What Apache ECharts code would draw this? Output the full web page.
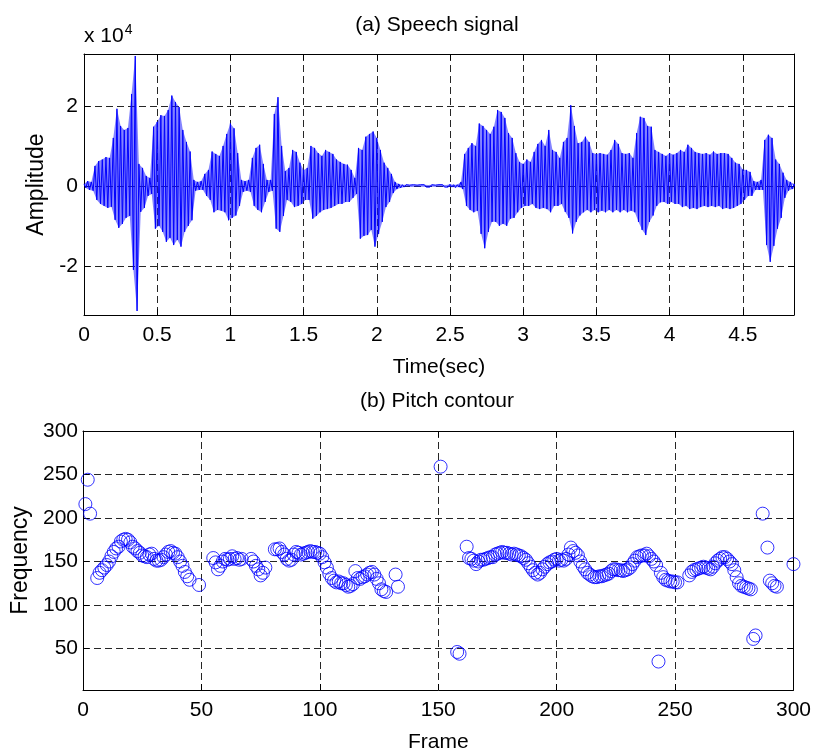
<!DOCTYPE html>
<html><head><meta charset="utf-8">
<script src="https://cdn.jsdelivr.net/npm/echarts@6/dist/echarts.min.js"></script>
<style>html,body{margin:0;padding:0;background:#fff}#c{width:814px;height:754px}</style>
</head><body><div id="c"></div>
<script>
// ---- (a) Speech signal: envelope read every 25 ms (units of 1e4) ----
const timeStep = 0.025;
const upperEnv = [
0.05,0.12,0.10,0.50,0.62,0.66,0.72,0.70,1.20,1.93,
1.50,1.40,1.45,2.30,3.25,0.55,0.45,0.25,0.20,1.48,
1.60,1.77,1.75,1.90,2.26,2.10,1.97,1.40,1.10,0.86,
0.15,0.10,0.12,0.30,0.40,0.86,0.80,0.75,1.00,1.30,
1.56,1.44,0.82,0.15,0.12,0.15,0.70,0.95,1.03,0.55,
0.15,0.15,1.80,2.22,1.00,0.37,0.45,0.90,0.85,0.58,
0.40,0.45,1.00,0.95,0.82,0.75,0.90,0.85,0.80,0.66,
0.60,0.55,0.53,0.40,0.20,0.95,0.90,1.23,1.30,1.36,
1.20,0.90,0.58,0.45,0.30,0.10,0.05,0.03,0.03,0.02,
0.03,0.02,0.03,0.03,0.02,0.03,0.02,0.03,0.03,0.02,
0.04,0.03,0.03,0.10,0.80,0.95,1.07,1.00,1.56,1.50,
1.40,1.30,1.48,1.90,1.85,1.70,1.32,1.20,0.82,0.60,
0.55,0.66,0.60,0.85,1.05,1.15,1.00,1.40,0.90,0.85,
0.70,1.10,1.20,2.02,1.50,1.07,1.10,1.23,1.10,0.82,
0.80,0.82,0.80,0.78,0.90,1.15,1.05,0.82,0.80,0.82,
0.70,1.32,1.73,1.70,1.50,1.48,0.90,0.85,0.80,0.75,
0.82,0.78,0.82,0.90,0.85,1.03,0.95,0.85,0.82,0.80,
0.82,0.78,0.86,0.80,0.82,0.82,0.80,0.70,0.58,0.55,
0.41,0.40,0.35,0.12,0.10,0.15,1.15,1.28,1.20,0.66,
0.55,0.33,0.15,0.10,0.05];
const lowerEnv = [
-0.05,-0.10,-0.12,-0.35,-0.45,-0.50,-0.55,-0.52,-0.85,-1.05,
-0.95,-0.80,-0.75,-2.10,-3.13,-0.65,-0.55,-0.25,-0.20,-1.07,
-1.00,-1.15,-1.40,-1.30,-1.48,-1.35,-1.52,-1.15,-1.00,-0.86,
-0.12,-0.10,-0.10,-0.25,-0.35,-0.66,-0.60,-0.62,-0.66,-0.86,
-0.80,-0.74,-0.50,-0.15,-0.12,-0.15,-0.50,-0.60,-0.66,-0.40,
-0.15,-0.12,-1.07,-1.15,-0.75,-0.35,-0.40,-0.53,-0.50,-0.45,
-0.35,-0.35,-0.82,-0.75,-0.66,-0.60,-0.58,-0.55,-0.50,-0.45,
-0.45,-0.40,-0.40,-0.30,-0.20,-1.32,-1.25,-1.23,-1.10,-1.52,
-1.20,-0.90,-0.53,-0.40,-0.18,-0.08,-0.05,-0.03,-0.02,-0.03,
-0.02,-0.03,-0.02,-0.03,-0.03,-0.02,-0.03,-0.02,-0.03,-0.03,
-0.03,-0.04,-0.03,-0.08,-0.50,-0.60,-0.66,-0.62,-1.20,-1.56,
-1.15,-0.90,-0.90,-1.00,-0.95,-1.00,-0.82,-0.80,-0.66,-0.55,
-0.50,-0.50,-0.45,-0.55,-0.58,-0.55,-0.58,-0.66,-0.50,-0.50,
-0.45,-0.65,-0.80,-1.19,-0.90,-0.74,-0.66,-0.60,-0.66,-0.60,
-0.66,-0.62,-0.66,-0.60,-0.66,-0.60,-0.66,-0.60,-0.66,-0.62,
-0.66,-0.90,-1.10,-1.23,-0.90,-0.74,-0.50,-0.41,-0.40,-0.45,
-0.40,-0.45,-0.45,-0.53,-0.50,-0.58,-0.55,-0.58,-0.53,-0.50,
-0.53,-0.50,-0.53,-0.50,-0.58,-0.55,-0.58,-0.55,-0.50,-0.45,
-0.35,-0.25,-0.25,-0.10,-0.10,-0.10,-1.48,-1.90,-1.50,-1.07,
-0.80,-0.30,-0.12,-0.08,-0.05];
const timeTicks = [0,0.5,1,1.5,2,2.5,3,3.5,4,4.5];
const ampTicks = [-2,0,2];

// ---- (b) Pitch contour ----
const frames = [1,2,3,
6,7,8,9,10,11,12,13,14,15,16,17,18,19,20,21,22,23,24,25,26,27,28,29,30,31,32,33,34,35,36,37,38,39,40,41,42,43,44,45,
49,
55,56,57,58,59,60,61,62,63,64,65,66,67,
71,72,73,74,75,76,77,
81,82,83,84,85,86,87,88,89,90,91,92,93,94,95,96,97,98,99,100,101,102,103,104,105,106,107,108,109,110,111,112,113,114,115,116,117,118,119,120,121,122,123,124,125,126,127,128,
132,133,
151,
158,159,
162,163,164,165,166,167,168,169,170,171,172,173,174,175,176,177,178,179,180,181,182,183,184,185,186,187,188,189,190,191,192,193,194,195,196,197,198,199,200,201,202,203,204,205,206,207,208,209,210,211,212,213,214,215,216,217,218,219,220,221,222,223,224,225,226,227,228,229,230,231,232,233,234,235,236,237,238,239,240,241,242,243,244,245,246,247,248,249,250,251,
256,257,258,259,260,261,262,263,264,265,266,267,268,269,270,271,272,273,274,275,276,277,278,279,280,281,282,283,284,
287,
289,290,291,292,293,
300];
const pitch = [216,244,205,
131,137,140,143,146,150,156,161,165,167,173,175,176,175,172,167,165,162,160,157,156,155,158,159,153,151,151,152,155,158,161,162,160,159,155,150,145,138,133,129,
123,
154,149,141,145,150,153,152,153,156,153,154,152,153,
153,150,145,141,134,137,143,
164,164,165,161,158,153,151,152,158,161,160,158,159,160,161,162,161,161,160,159,155,149,143,136,131,128,126,127,125,125,123,121,122,124,139,131,130,132,133,135,137,138,135,130,125,118,116,115,
135,121,
259,
46,44,
167,154,153,151,147,150,152,152,153,154,155,155,158,159,160,161,160,160,159,158,159,158,157,156,154,152,148,144,140,137,135,137,141,144,147,149,150,152,153,151,152,151,153,158,166,162,160,157,150,145,141,137,135,133,132,132,133,133,134,135,136,139,141,141,140,140,139,140,141,143,147,151,155,156,157,157,159,156,153,150,146,35,137,132,129,128,127,127,126,126,
134,138,140,141,142,143,144,143,142,141,144,148,151,153,155,155,153,150,147,140,132,125,122,121,120,119,118,61,65,
205,
166,128,125,122,121,
147];
const frameTicks = [0,50,100,150,200,250,300];
const freqTicks = [50,100,150,200,250,300];

const FONT = '"Liberation Sans", Arial, sans-serif';
const BLUE = '#0000ff';
const wave = [];
for (let i = 0; i < upperEnv.length; i++) {
  wave.push([i * timeStep, upperEnv[i]]);
  wave.push([i * timeStep + timeStep / 2, lowerEnv[i]]);
}
const upperPts = upperEnv.map((v, i) => [i * timeStep, v]);
const lowerPts = lowerEnv.map((v, i) => [i * timeStep + timeStep / 2, v]);
const pitchData = frames.map((f, i) => [f, pitch[i]]);

const dash = { color: '#262626', type: [7, 4], width: 1 };
const axisLine = { show: true, onZero: false, lineStyle: { color: '#000', width: 1 } };
function xAx(grid, min, max, ticks, pos, name, nameGap) {
  const main = pos === 'bottom';
  return {
    type: 'value', gridIndex: grid, position: pos, min: min, max: max,
    axisLine: axisLine,
    axisTick: { show: true, inside: true, length: 6, customValues: ticks, lineStyle: { color: '#000' } },
    axisLabel: { show: main, customValues: ticks, margin: 10, color: '#000', fontFamily: FONT, fontSize: 21 },
    splitLine: { show: main, lineStyle: dash },
    name: main ? name : '', nameLocation: 'middle', nameGap: nameGap,
    nameTextStyle: { color: '#000', fontFamily: FONT, fontSize: 21 }
  };
}
function yAx(grid, min, max, ticks, pos, name, nameGap, margin) {
  const main = pos === 'left';
  return {
    type: 'value', gridIndex: grid, position: pos, min: min, max: max,
    axisLine: axisLine,
    axisTick: { show: true, inside: true, length: 6, customValues: ticks, lineStyle: { color: '#000' } },
    axisLabel: { show: main, customValues: ticks, margin: margin, color: '#000', fontFamily: FONT, fontSize: 21 },
    splitLine: { show: main, lineStyle: dash },
    name: main ? name : '', nameLocation: 'middle', nameGap: nameGap, nameRotate: 90,
    nameTextStyle: { color: '#000', fontFamily: FONT, fontSize: 23 }
  };
}
const envArea = (pts) => ({
  type: 'line', xAxisIndex: 0, yAxisIndex: 0, data: pts, showSymbol: false, symbol: 'none', z: 2,
  lineStyle: { width: 0, color: BLUE }, areaStyle: { color: 'rgba(20,20,255,0.75)', origin: 0 },
  silent: true
});

const chart = echarts.init(document.getElementById('c'), null, { renderer: 'canvas' });
chart.setOption({
  backgroundColor: '#fff',
  animation: false,
  title: [
    { text: '(a) Speech signal', left: 437, top: 15, textAlign: 'center', padding: 0,
      textStyle: { fontFamily: FONT, fontSize: 21, fontWeight: 'normal', color: '#000' } },
    { text: '(b) Pitch contour', left: 437, top: 391, textAlign: 'center', padding: 0,
      textStyle: { fontFamily: FONT, fontSize: 21, fontWeight: 'normal', color: '#000' } },
    { text: 'x 10{s|4}', left: 84, top: 23, padding: 0,
      textStyle: { fontFamily: FONT, fontSize: 21, fontWeight: 'normal', color: '#000',
        rich: { s: { fontFamily: FONT, fontSize: 14, color: '#000', verticalAlign: 'top', padding: [0, 0, 12, 1] } } } }
  ],
  grid: [
    { left: 84, top: 54, right: 20, height: 261 },
    { left: 83, top: 431, right: 20, height: 261 }
  ],
  xAxis: [
    xAx(0, 0, 4.85, timeTicks, 'bottom', 'Time(sec)', 42),
    xAx(0, 0, 4.85, timeTicks, 'top', '', 0),
    xAx(1, 0, 300, frameTicks, 'bottom', 'Frame', 42),
    xAx(1, 0, 300, frameTicks, 'top', '', 0)
  ],
  yAxis: [
    yAx(0, -3.23, 3.3, ampTicks, 'left', 'Amplitude', 35, 6),
    yAx(0, -3.23, 3.3, ampTicks, 'right', '', 0, 6),
    yAx(1, 2.3, 300, freqTicks, 'left', 'Frequency', 48, 5),
    yAx(1, 2.3, 300, freqTicks, 'right', '', 0, 5)
  ],
  series: [
    envArea(upperPts),
    envArea(lowerPts),
    { type: 'line', xAxisIndex: 0, yAxisIndex: 0, data: wave, showSymbol: false, symbol: 'none', z: 3,
      lineStyle: { color: BLUE, width: 1 }, clip: true, silent: true },
    { type: 'scatter', xAxisIndex: 2, yAxisIndex: 2, data: pitchData, symbol: 'circle', symbolSize: 13,
      itemStyle: { color: 'rgba(0,0,0,0)', borderColor: BLUE, borderWidth: 1 }, clip: false, silent: true }
  ]
});
</script></body></html>
